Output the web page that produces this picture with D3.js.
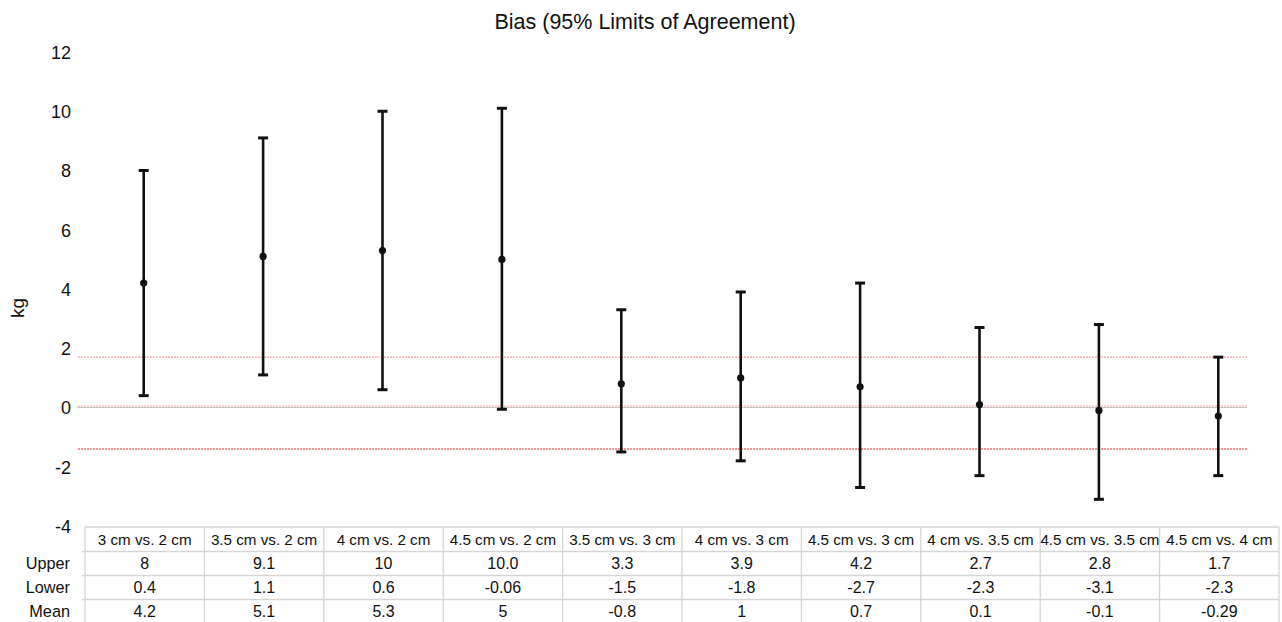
<!DOCTYPE html>
<html>
<head>
<meta charset="utf-8">
<script src="https://cdn.jsdelivr.net/npm/d3@7/dist/d3.min.js"></script>
<style>
  html, body { margin: 0; padding: 0; background: #fff; }
  svg { display: block; font-family: "Liberation Sans", Arial, sans-serif; }
</style>
</head>
<body>
<svg id="chart" width="1282" height="622"></svg>
<script>
// ---- data ----
const categories = ["3 cm vs. 2 cm", "3.5 cm vs. 2 cm", "4 cm vs. 2 cm", "4.5 cm vs. 2 cm", "3.5 cm vs. 3 cm",
  "4 cm vs. 3 cm", "4.5 cm vs. 3 cm", "4 cm vs. 3.5 cm", "4.5 cm vs. 3.5 cm", "4.5 cm vs. 4 cm"];
const upperValues = [8, 9.1, 10, 10.1, 3.3, 3.9, 4.2, 2.7, 2.8, 1.7];
const lowerValues = [0.4, 1.1, 0.6, -0.06, -1.5, -1.8, -2.7, -2.3, -3.1, -2.3];
const meanValues = [4.2, 5.1, 5.3, 5.0, 0.8, 1.0, 0.7, 0.1, -0.1, -0.29];
const upperLabels = ["8", "9.1", "10", "10.0", "3.3", "3.9", "4.2", "2.7", "2.8", "1.7"];
const lowerLabels = ["0.4", "1.1", "0.6", "-0.06", "-1.5", "-1.8", "-2.7", "-2.3", "-3.1", "-2.3"];
const meanLabels = ["4.2", "5.1", "5.3", "5", "-0.8", "1", "0.7", "0.1", "-0.1", "-0.29"];
const rowNames = ["Upper", "Lower", "Mean"];
const yTicks = [-4, -2, 0, 2, 4, 6, 8, 10, 12];
const refLines = [1.7, 0.05, -1.4];
const refColors = ["#f4a0a0", "#f4a0a0", "#e03030"];
const title = "Bias (95% Limits of Agreement)";
const yLabel = "kg";

// ---- layout ----
const svg = d3.select("#chart");
const left = 85, right = 1279;
const y = d3.scaleLinear().domain([-4, 12]).range([526, 52]);
const x = d3.scaleBand().domain(categories).range([left, right]).padding(0);

// title
svg.append("text").attr("x", 645).attr("y", 29).attr("text-anchor", "middle")
  .attr("font-size", 21.5).attr("fill", "#111").text(title);

// y axis label
svg.append("text").attr("transform", "translate(24,308) rotate(-90)")
  .attr("text-anchor", "middle").attr("font-size", 19).attr("fill", "#111").text(yLabel);

// y axis tick labels (no axis line)
const yAxis = d3.axisLeft(y).tickValues(yTicks).tickSize(0).tickPadding(0).tickFormat(d => String(d));
const yg = svg.append("g").attr("transform", "translate(71,0)").call(yAxis);
yg.select(".domain").remove();
yg.selectAll("text").attr("font-size", 18).attr("fill", "#111")
  .attr("font-family", "Liberation Sans, Arial, sans-serif").attr("dy", "0.35em");

// zero line (gray)
svg.append("line").attr("x1", 77).attr("x2", 1247).attr("y1", y(0)).attr("y2", y(0))
  .attr("stroke", "#c8c8c8").attr("stroke-width", 1.2);

// reference lines
svg.selectAll(".ref").data(refLines).enter().append("line")
  .attr("x1", 78).attr("x2", 1248)
  .attr("y1", d => y(d)).attr("y2", d => y(d))
  .attr("stroke", (d, i) => refColors[i]).attr("stroke-width", 1.2)
  .attr("stroke-dasharray", "2,1");

// error bars
const idx = d3.range(categories.length);
const cx = i => x(categories[i]) + x.bandwidth() / 2 - 1;
const bars = svg.append("g");
bars.selectAll(".v").data(idx).enter().append("line")
  .attr("x1", cx).attr("x2", cx)
  .attr("y1", i => y(upperValues[i])).attr("y2", i => y(lowerValues[i]))
  .attr("stroke", "#111").attr("stroke-width", 2.6);
bars.selectAll(".cu").data(idx).enter().append("line")
  .attr("x1", i => cx(i) - 5).attr("x2", i => cx(i) + 5)
  .attr("y1", i => y(upperValues[i])).attr("y2", i => y(upperValues[i]))
  .attr("stroke", "#111").attr("stroke-width", 3);
bars.selectAll(".cl").data(idx).enter().append("line")
  .attr("x1", i => cx(i) - 5).attr("x2", i => cx(i) + 5)
  .attr("y1", i => y(lowerValues[i])).attr("y2", i => y(lowerValues[i]))
  .attr("stroke", "#111").attr("stroke-width", 3);
bars.selectAll(".m").data(idx).enter().append("circle")
  .attr("cx", cx).attr("cy", i => y(meanValues[i])).attr("r", 3.6).attr("fill", "#111");

// ---- table ----
const rowTops = [527, 551.5, 575.5, 599.5];
const rowBottom = 623;
const grid = "#d6d6d6";
const tg = svg.append("g");
// horizontal lines
rowTops.forEach((t, k) => {
  tg.append("line").attr("x1", k === 0 ? left : 82).attr("x2", right).attr("y1", t).attr("y2", t)
    .attr("stroke", grid).attr("stroke-width", 1.3);
});
// vertical lines
const bounds = categories.map(c => x(c)).concat([right]);
tg.selectAll(".vl").data(bounds).enter().append("line")
  .attr("x1", d => d).attr("x2", d => d).attr("y1", rowTops[0]).attr("y2", rowBottom)
  .attr("stroke", grid).attr("stroke-width", 1.3);
// header
tg.selectAll(".hd").data(categories).enter().append("text")
  .attr("x", d => x(d) + x.bandwidth() / 2).attr("y", (rowTops[0] + rowTops[1]) / 2 + 5.5)
  .attr("text-anchor", "middle").attr("font-size", 15.2).attr("fill", "#111").text(d => d);
// rows
const rowsData = [upperLabels, lowerLabels, meanLabels];
rowsData.forEach((labels, r) => {
  const cyR = (rowTops[r + 1] + (r + 2 < rowTops.length ? rowTops[r + 2] : rowBottom)) / 2 + 5.5;
  tg.append("text").attr("x", 70).attr("y", cyR).attr("text-anchor", "end")
    .attr("font-size", 16.3).attr("fill", "#111").text(rowNames[r]);
  tg.selectAll(".r" + r).data(labels).enter().append("text")
    .attr("x", (d, i) => x(categories[i]) + x.bandwidth() / 2).attr("y", cyR)
    .attr("text-anchor", "middle").attr("font-size", 16).attr("fill", "#111").text(d => d);
});
</script>
</body>
</html>
